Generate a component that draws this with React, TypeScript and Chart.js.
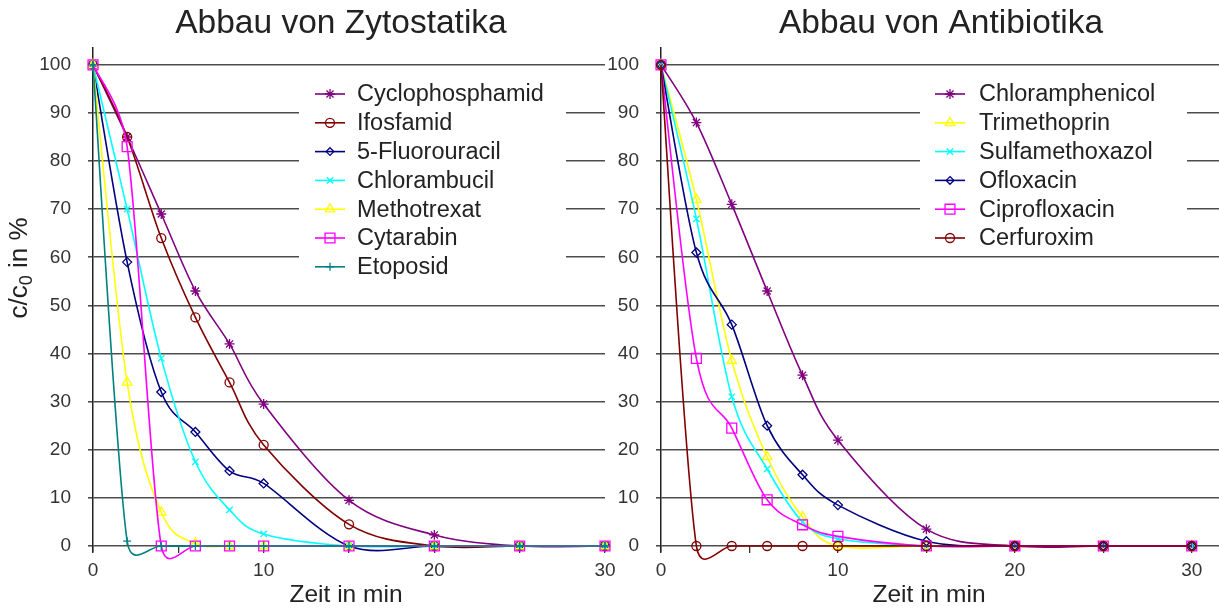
import React, { useEffect, useRef } from 'react';
import { Chart, registerables } from 'chart.js';

Chart.register(...registerables);

// ---------- data ----------
const times = [0, 2, 4, 6, 8, 10, 15, 20, 25, 30];

const zytoNames = ['Cyclophosphamid', 'Ifosfamid', '5-Fluorouracil', 'Chlorambucil', 'Methotrexat', 'Cytarabin', 'Etoposid'];
const cyclophosphamid = [100, 85, 69, 53, 42, 29.5, 9.5, 2.3, 0, 0];
const ifosfamid = [100, 85, 64, 47.5, 34, 21, 4.5, 0, 0, 0];
const fluorouracil = [100, 59, 32, 23.7, 15.6, 13, 0, 0, 0, 0];
const chlorambucil = [100, 70, 39, 17.5, 7.5, 2.5, 0, 0, 0, 0];
const methotrexat = [100, 34, 7, 0.5, 0, 0, 0, 0, 0, 0];
const cytarabin = [100, 83, 0, 0, 0, 0, 0, 0, 0, 0];
const etoposid = [100, 1, 0, 0, 0, 0, 0, 0, 0, 0];
const zytoValues = [cyclophosphamid, ifosfamid, fluorouracil, chlorambucil, methotrexat, cytarabin, etoposid];
const zytoColors = ['#800080', '#800000', '#000080', '#00FFFF', '#FFFF00', '#FF00FF', '#008080'];
const zytoMarkers = ['star', 'circle', 'rectRot', 'crossRot', 'triangle', 'rect', 'cross'];
const zytoRadii = [5, 4.5, 4.5, 4.5, 5.5, 7, 4];

const antiNames = ['Chloramphenicol', 'Trimethoprin', 'Sulfamethoxazol', 'Ofloxacin', 'Ciprofloxacin', 'Cerfuroxim'];
const chloramphenicol = [100, 88, 71, 53, 35.5, 22, 3.5, 0, 0, 0];
const trimethoprin = [100, 72, 38.5, 18.5, 6, 0, 0, 0, 0, 0];
const sulfamethoxazol = [100, 68, 31, 16, 5, 1.5, 0, 0, 0, 0];
const ofloxacin = [100, 61, 46, 25, 14.8, 8.5, 1, 0, 0, 0];
const ciprofloxacin = [100, 39, 24.5, 9.6, 4.4, 2, 0, 0, 0, 0];
const cerfuroxim = [100, 0, 0, 0, 0, 0, 0, 0, 0, 0];
const antiValues = [chloramphenicol, trimethoprin, sulfamethoxazol, ofloxacin, ciprofloxacin, cerfuroxim];
const antiColors = ['#800080', '#FFFF00', '#00FFFF', '#000080', '#FF00FF', '#800000'];
const antiMarkers = ['star', 'triangle', 'crossRot', 'rectRot', 'rect', 'circle'];
const antiRadii = [5, 5.5, 4.5, 4.5, 7, 4.5];

const yTicks = { min: -1.25, max: 103.5, step: 10 };
const xTitle = 'Zeit in min';

// ---------- styling ----------
const FONT = '"Liberation Sans", Arial, Helvetica, sans-serif';
const TEXT = '#222222';
const GRID = '#4d4d4d';

// ---------- helpers ----------
function drawMarker(ctx: CanvasRenderingContext2D, style: string, x: number, y: number, r: number) {
  ctx.beginPath();
  switch (style) {
    case 'circle':
      ctx.arc(x, y, r, 0, Math.PI * 2);
      break;
    case 'triangle':
      for (let k = 0; k < 3; k++) {
        const a = (k * 2 * Math.PI) / 3;
        const px = x + Math.sin(a) * r;
        const py = y - Math.cos(a) * r;
        if (k === 0) ctx.moveTo(px, py); else ctx.lineTo(px, py);
      }
      ctx.closePath();
      break;
    case 'rect': {
      const s = r * Math.SQRT1_2;
      ctx.rect(x - s, y - s, 2 * s, 2 * s);
      break;
    }
    case 'rectRot': {
      const s = r * Math.SQRT1_2 * 1.2;
      ctx.moveTo(x, y - s); ctx.lineTo(x + s, y); ctx.lineTo(x, y + s); ctx.lineTo(x - s, y); ctx.closePath();
      break;
    }
    case 'cross':
      ctx.moveTo(x, y - r); ctx.lineTo(x, y + r); ctx.moveTo(x - r, y); ctx.lineTo(x + r, y);
      break;
    case 'crossRot': {
      const s = r * Math.SQRT1_2;
      ctx.moveTo(x - s, y - s); ctx.lineTo(x + s, y + s); ctx.moveTo(x - s, y + s); ctx.lineTo(x + s, y - s);
      break;
    }
    case 'star': {
      const s = r * Math.SQRT1_2;
      ctx.moveTo(x, y - r); ctx.lineTo(x, y + r); ctx.moveTo(x - r, y); ctx.lineTo(x + r, y);
      ctx.moveTo(x - s, y - s); ctx.lineTo(x + s, y + s); ctx.moveTo(x - s, y + s); ctx.lineTo(x + s, y - s);
      break;
    }
  }
  ctx.stroke();
}

// Catmull-Rom style smoothing similar to the spreadsheet's "smoothed line"
const LIMIT_IN = 0.5;
const LIMIT_OUT = 0.85;
const smoothPlugin = {
  id: 'excelSmooth',
  beforeDatasetDraw(chart: any, args: any) {
    const meta = args.meta;
    const line = meta.dataset;
    const pts = meta.data;
    if (!line || !pts || pts.length < 2) return;
    const n = pts.length;
    for (let i = 0; i < n; i++) {
      const p = pts[i];
      const prev = pts[Math.max(0, i - 1)];
      const next = pts[Math.min(n - 1, i + 1)];
      const dx = (next.x - prev.x) / 6;
      const dy = (next.y - prev.y) / 6;
      const len = Math.hypot(dx, dy);
      const dPrev = Math.hypot(p.x - prev.x, p.y - prev.y) * LIMIT_IN;
      const dNext = Math.hypot(next.x - p.x, next.y - p.y) * LIMIT_OUT;
      const sIn = len > dPrev && len > 0 ? dPrev / len : 1;
      const sOut = len > dNext && len > 0 ? dNext / len : 1;
      p.cp1x = p.x - dx * sIn;
      p.cp1y = p.y - dy * sIn;
      p.cp2x = p.x + dx * sOut;
      p.cp2y = p.y + dy * sOut;
    }
    line._pointsUpdated = true;
    line._path = undefined;
  },
};

const floatLegendPlugin = {
  id: 'floatLegend',
  afterDatasetsDraw(chart: any, _args: any, opts: any) {
    if (!opts || !opts.box) return;
    const ctx: CanvasRenderingContext2D = chart.ctx;
    ctx.save();
    ctx.fillStyle = '#ffffff';
    ctx.fillRect(opts.box.x, opts.box.y, opts.box.w, opts.box.h);
    chart.data.datasets.forEach((ds: any, i: number) => {
      const y = opts.rowY + i * opts.rowH;
      ctx.strokeStyle = ds.borderColor;
      ctx.lineWidth = 1.6;
      ctx.beginPath();
      ctx.moveTo(opts.lineX0, y);
      ctx.lineTo(opts.lineX1, y);
      ctx.stroke();
      ctx.lineWidth = 1.3;
      drawMarker(ctx, ds.pointStyle, (opts.lineX0 + opts.lineX1) / 2, y, ds.pointRadius);
      ctx.fillStyle = TEXT;
      ctx.font = `${opts.fontSize}px ${FONT}`;
      ctx.textAlign = 'left';
      ctx.textBaseline = 'middle';
      ctx.fillText(ds.label, opts.textX, y + 1);
    });
    ctx.restore();
  },
};

const textPlugin = {
  id: 'panelText',
  afterDraw(chart: any, _args: any, opts: any) {
    if (!opts) return;
    const ctx: CanvasRenderingContext2D = chart.ctx;
    ctx.save();
    ctx.fillStyle = TEXT;
    ctx.textBaseline = 'middle';
    ctx.textAlign = 'center';
    if (opts.title) {
      ctx.font = `${opts.title.size}px ${FONT}`;
      ctx.fillText(opts.title.text, opts.title.x, opts.title.y);
    }
    if (opts.xTitle) {
      ctx.font = `${opts.xTitle.size}px ${FONT}`;
      ctx.fillText(opts.xTitle.text, opts.xTitle.x, opts.xTitle.y);
    }
    const yt = opts.yTitle;
    if (yt && yt.show) {
      ctx.translate(yt.x, yt.y);
      ctx.rotate(-Math.PI / 2);
      ctx.textAlign = 'left';
      const big = `${yt.size}px ${FONT}`;
      const small = `${Math.round(yt.size * 0.68)}px ${FONT}`;
      ctx.font = big;
      const w1 = ctx.measureText(yt.pre).width;
      const w3 = ctx.measureText(yt.post).width;
      ctx.font = small;
      const w2 = ctx.measureText(yt.sub).width;
      let x = -(w1 + w2 + w3) / 2;
      ctx.font = big;
      ctx.fillText(yt.pre, x, 0);
      x += w1;
      ctx.font = small;
      ctx.fillText(yt.sub, x, yt.size * 0.28);
      x += w2;
      ctx.font = big;
      ctx.fillText(yt.post, x, 0);
    }
    ctx.restore();
  },
};

function buildConfig(p: {
  title: string; names: string[]; values: number[][]; colors: string[]; markers: string[]; radii: number[];
  xMax: number; axisWidth: number; padRight: number; legend: any; yTitle: any; xTitleX: number;
}) {
  const n = p.names.length;
  return {
    type: 'line' as const,
    data: {
      datasets: p.names.map((name, i) => ({
        label: name,
        data: times.map((t, j) => ({ x: t, y: p.values[i][j] })),
        borderColor: p.colors[i],
        backgroundColor: 'transparent',
        borderWidth: 1.6,
        tension: 0.4,
        clip: false,
        fill: false,
        pointStyle: p.markers[i],
        pointRadius: p.radii[i],
        pointBorderWidth: 1.3,
        pointBorderColor: p.colors[i],
        pointBackgroundColor: 'transparent',
        order: n - 1 - i,
      })),
    },
    options: {
      animation: false,
      responsive: true,
      maintainAspectRatio: false,
      events: [],
      layout: { padding: { left: 0, right: p.padRight, top: 48, bottom: 58 } },
      plugins: {
        legend: { display: false },
        tooltip: { enabled: false },
        title: { display: false },
        floatLegend: p.legend,
        panelText: {
          title: { text: p.title, x: 341, y: 24, size: 33.5 },
          xTitle: { text: xTitle, x: p.xTitleX, y: 595, size: 24.5 },
          yTitle: p.yTitle,
        },
      },
      scales: {
        x: {
          type: 'linear',
          min: 0,
          max: p.xMax,
          position: { y: 0 },
          ticks: {
            stepSize: 5,
            includeBounds: false,
            autoSkip: false,
            maxRotation: 0,
            padding: 4,
            color: '#333333',
            font: { family: FONT, size: 19, lineHeight: 1.5 },
            callback: (v: number) => (v % 10 === 0 ? String(v) : ''),
          },
          grid: { drawOnChartArea: false, tickLength: 7, color: '#333333', lineWidth: 1.3 },
          border: { display: false },
          title: { display: false },
        },
        y: {
          type: 'linear',
          min: yTicks.min,
          max: yTicks.max,
          afterFit: (s: any) => { s.width = p.axisWidth; },
          ticks: {
            stepSize: yTicks.step,
            includeBounds: false,
            padding: 17,
            color: '#333333',
            font: { family: FONT, size: 19 },
          },
          grid: { color: GRID, lineWidth: 1.6, tickLength: 5 },
          border: { display: true, color: '#222222', width: 1.5 },
        },
      },
    },
    plugins: [smoothPlugin, floatLegendPlugin, textPlugin],
  };
}

function ChartCanvas({ config, style }: { config: any; style: React.CSSProperties }) {
  const ref = useRef<HTMLCanvasElement | null>(null);
  useEffect(() => {
    if (!ref.current) return;
    const chart = new Chart(ref.current, config);
    return () => chart.destroy();
  }, [config]);
  return (
    <div style={{ position: 'absolute', top: 0, height: 610, ...style }}>
      <canvas ref={ref} />
    </div>
  );
}

const leftConfig = buildConfig({
  title: 'Abbau von Zytostatika',
  names: zytoNames,
  values: zytoValues,
  colors: zytoColors,
  markers: zytoMarkers,
  radii: zytoRadii,
  xMax: 30,
  axisWidth: 93,
  padRight: 15,
  legend: { box: { x: 299, y: 74, w: 267, h: 211 }, lineX0: 315, lineX1: 345, textX: 357, rowY: 94, rowH: 28.8, fontSize: 23.5 },
  yTitle: { show: true, x: 20, y: 268, size: 26, pre: 'c/c', sub: '0', post: ' in %' },
  xTitleX: 346,
});

const rightConfig = buildConfig({
  title: 'Abbau von Antibiotika',
  names: antiNames,
  values: antiValues,
  colors: antiColors,
  markers: antiMarkers,
  radii: antiRadii,
  xMax: 31.58,
  axisWidth: 61,
  padRight: 0,
  legend: { box: { x: 320, y: 74, w: 267, h: 178 }, lineX0: 335, lineX1: 365, textX: 379, rowY: 94, rowH: 28.8, fontSize: 23.5 },
  yTitle: { show: false },
  xTitleX: 329,
});

export default function App() {
  return (
    <div style={{ position: 'fixed', left: 0, top: 0, width: 1219, height: 610, background: '#ffffff', overflow: 'hidden' }}>
      <ChartCanvas config={leftConfig} style={{ left: 0, width: 620 }} />
      <ChartCanvas config={rightConfig} style={{ left: 600, width: 628 }} />
    </div>
  );
}
